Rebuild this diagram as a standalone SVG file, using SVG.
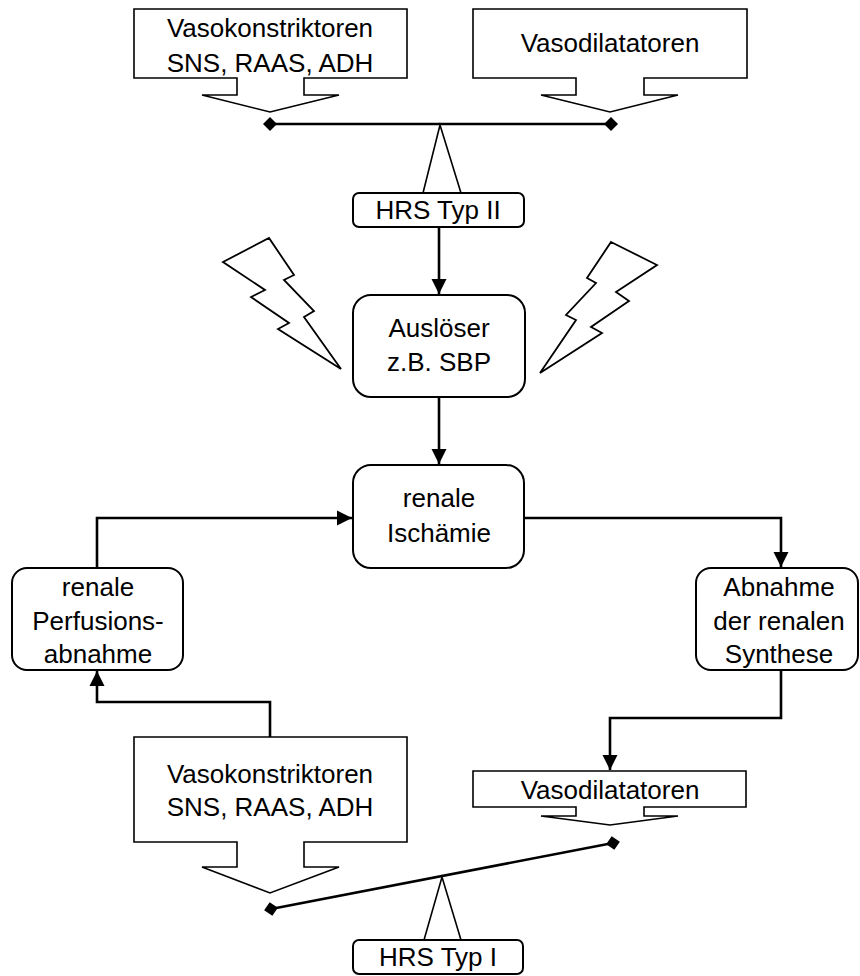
<svg xmlns="http://www.w3.org/2000/svg" width="860" height="976" viewBox="0 0 860 976">
<defs>
<style>
.box{fill:#fff;stroke:#000;stroke-width:2}
.call{fill:#fff;stroke:#000;stroke-width:1.6;stroke-linejoin:miter}
.txt{font-family:"Liberation Sans",Arial,sans-serif;font-size:26px;fill:#000;text-anchor:middle}
.conn{fill:none;stroke:#000;stroke-width:2.6}
.beam{fill:none;stroke:#000;stroke-width:2.6}
.ful{fill:none;stroke:#000;stroke-width:1.6}
.bolt{fill:#fff;stroke:#000;stroke-width:1.8;stroke-linejoin:miter}
.dia{fill:#000}
</style>
<marker id="ah" markerUnits="userSpaceOnUse" markerWidth="16" markerHeight="16" viewBox="0 0 16 16" refX="15" refY="8" orient="auto">
<path d="M0,0.5 L15,8 L0,15.5 Z" fill="#000"/>
</marker>
</defs>
<rect width="860" height="976" fill="#fff"/>

<g id="connectors">
<path class="conn" d="M439,227 L439,294" marker-end="url(#ah)"/>
<path class="conn" d="M439,397 L439,464" marker-end="url(#ah)"/>
<path class="conn" d="M97,568 L97,518 L352,518" marker-end="url(#ah)"/>
<path class="conn" d="M524,518 L781,518 L781,567" marker-end="url(#ah)"/>
<path class="conn" d="M781,670 L781,718 L610,718 L610,770" marker-end="url(#ah)"/>
<path class="conn" d="M270,737 L270,702 L97,702 L97,671" marker-end="url(#ah)"/>
</g>

<g id="balance-top">
<line class="beam" x1="270" y1="124" x2="611" y2="124"/>
<path class="dia" d="M270,117 L277,124 L270,131 L263,124 Z"/>
<path class="dia" d="M611,117 L618,124 L611,131 L604,124 Z"/>
<polyline class="ful" points="423,193 440,125 461,193"/>
</g>

<g id="balance-bottom">
<line class="beam" x1="271" y1="909" x2="613" y2="843"/>
<path class="dia" d="M271,902 L278,909 L271,916 L264,909 Z" transform="rotate(-11 271 909)"/>
<path class="dia" d="M613,836 L620,843 L613,850 L606,843 Z" transform="rotate(-11 613 843)"/>
<polyline class="ful" points="424,940 442,877 461,940"/>
</g>

<g id="vasokonstriktoren-top">
<path class="call" d="M134,9 L407,9 L407,78 L304,78 L304,95 L339,95 L270,112 L202,95 L237,95 L237,78 L134,78 Z"/>
<text class="txt" x="270" y="37">Vasokonstriktoren</text>
<text class="txt" x="270" y="72">SNS, RAAS, ADH</text>
</g>

<g id="vasodilatatoren-top">
<path class="call" d="M473,9 L747,9 L747,78 L644,78 L644,95 L678,95 L610,112 L541,95 L576,95 L576,78 L473,78 Z"/>
<text class="txt" x="610" y="52">Vasodilatatoren</text>
</g>

<g id="hrs-typ-ii">
<rect class="box" x="353" y="193" width="171" height="34" rx="6"/>
<text class="txt" x="438" y="219">HRS Typ II</text>
</g>

<g id="bolt-left">
<polygon class="bolt" points="223,262 269,238 294,275 284,280 314,311 304,317 341,369 278,329 289,323 251,297 265,290"/>
</g>
<g id="bolt-right">
<polygon class="bolt" points="611,242 657,265 616,292 629,301 591,327 602,333 540,373 576,320 566,315 596,283 587,278"/>
</g>

<g id="ausloeser">
<rect class="box" x="353" y="295" width="172" height="102" rx="18"/>
<text class="txt" x="439" y="337">Auslöser</text>
<text class="txt" x="439" y="371">z.B. SBP</text>
</g>

<g id="renale-ischaemie">
<rect class="box" x="353" y="465" width="171" height="103" rx="18"/>
<text class="txt" x="439" y="507">renale</text>
<text class="txt" x="439" y="542">Ischämie</text>
</g>

<g id="perfusionsabnahme">
<rect class="box" x="12" y="568" width="171" height="102" rx="15"/>
<text class="txt" x="98" y="596">renale</text>
<text class="txt" x="98" y="630">Perfusions-</text>
<text class="txt" x="98" y="663">abnahme</text>
</g>

<g id="abnahme-synthese">
<rect class="box" x="696" y="568" width="162" height="102" rx="15"/>
<text class="txt" x="779" y="596">Abnahme</text>
<text class="txt" x="779" y="630">der renalen</text>
<text class="txt" x="779" y="663">Synthese</text>
</g>

<g id="vasokonstriktoren-bottom">
<path class="call" d="M134,737 L407,737 L407,842 L304,842 L304,867 L339,867 L270,893 L202,867 L237,867 L237,842 L134,842 Z"/>
<text class="txt" x="270" y="783">Vasokonstriktoren</text>
<text class="txt" x="270" y="816">SNS, RAAS, ADH</text>
</g>

<g id="vasodilatatoren-bottom">
<path class="call" d="M473,771 L746,771 L746,807 L644,807 L644,816 L678,816 L610,825 L541,816 L576,816 L576,807 L473,807 Z"/>
<text class="txt" x="610" y="799">Vasodilatatoren</text>
</g>

<g id="hrs-typ-i">
<rect class="box" x="353" y="940" width="170" height="34" rx="6"/>
<text class="txt" x="438" y="966">HRS Typ I</text>
</g>
</svg>
